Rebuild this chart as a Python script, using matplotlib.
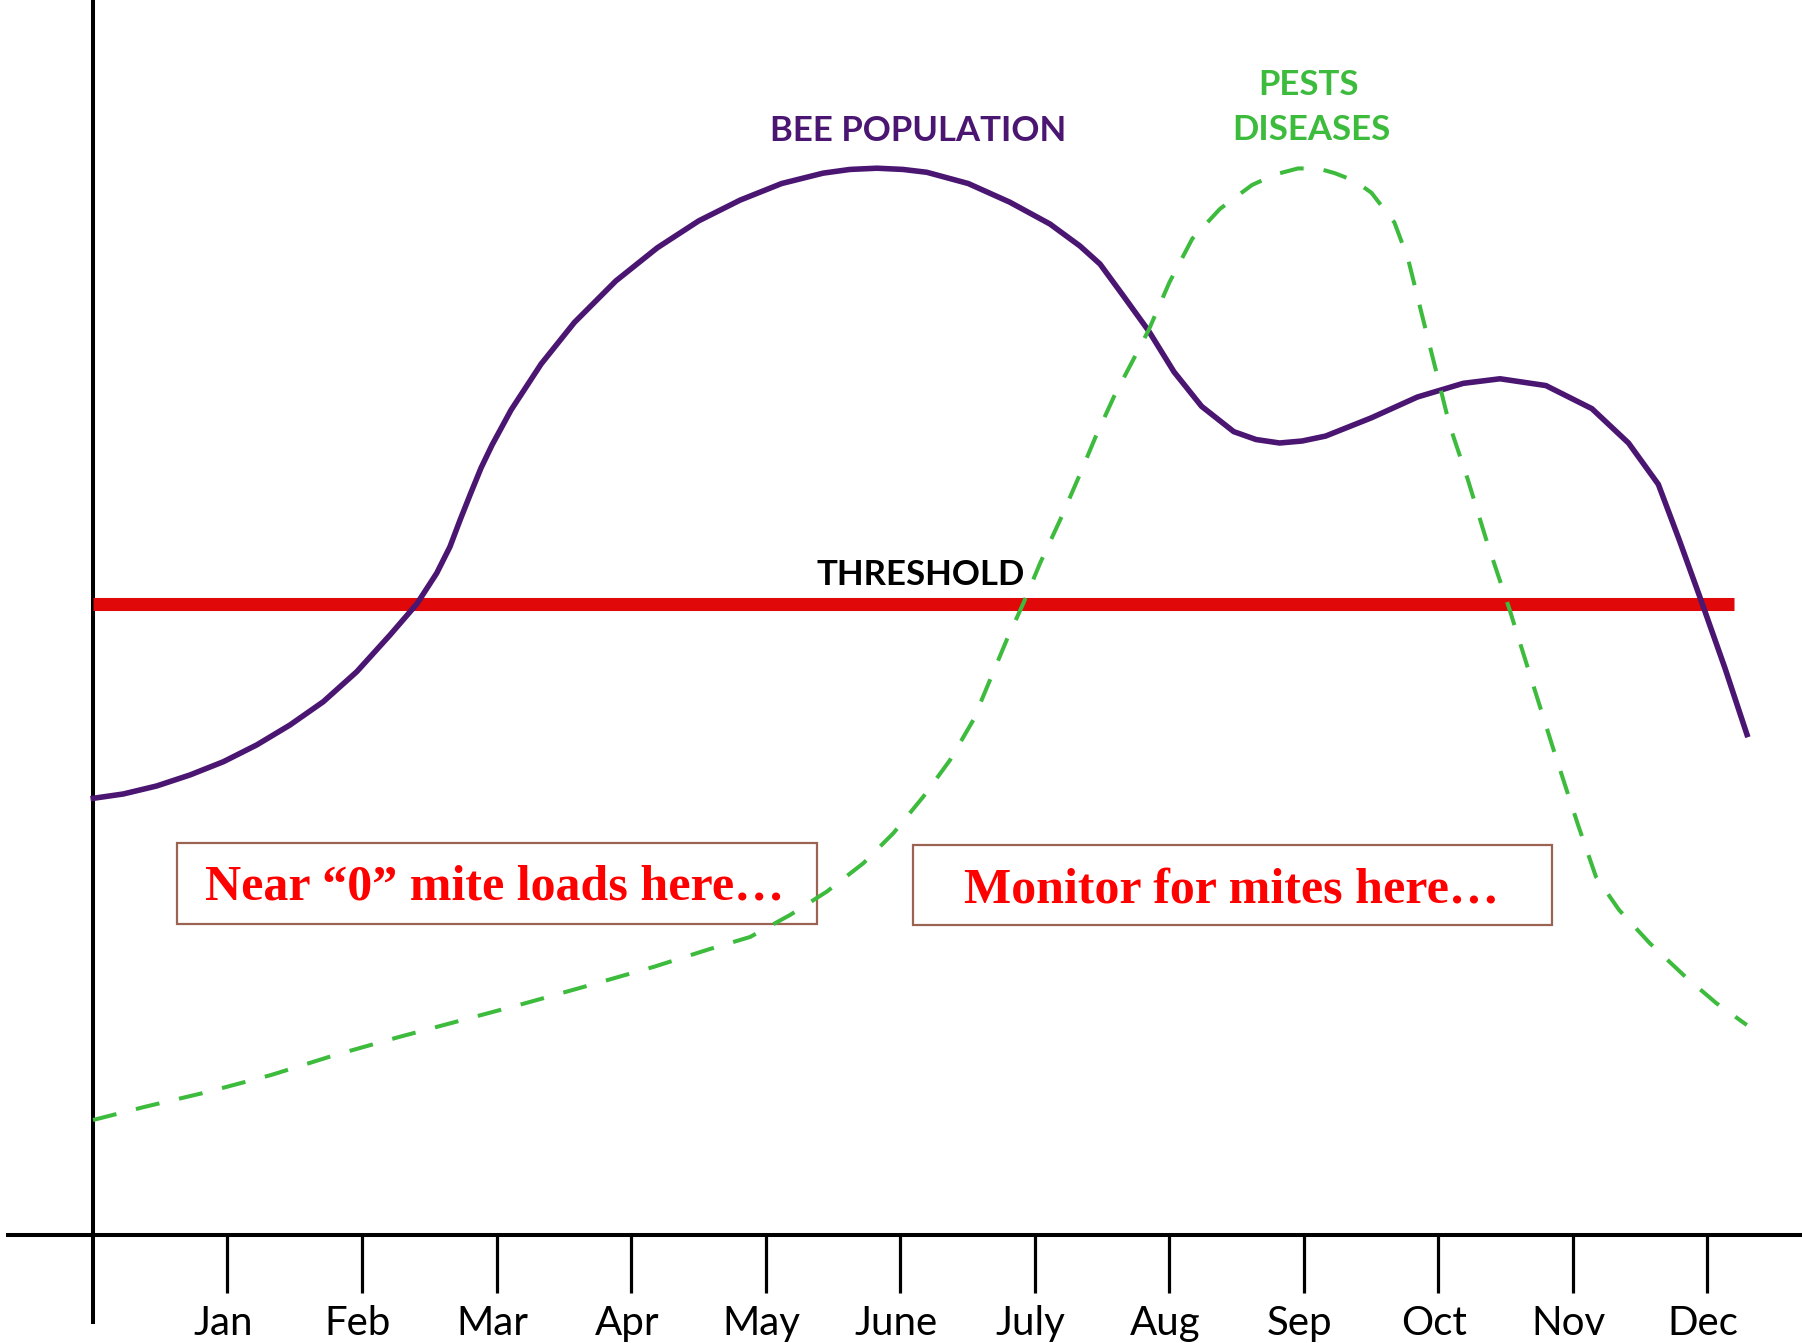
import numpy as np
import matplotlib.pyplot as plt

# months on the x axis, y axis ticks sit at 1..12
months = ['Jan', 'Feb', 'Mar', 'Apr', 'May', 'June', 'July', 'Aug', 'Sep', 'Oct', 'Nov', 'Dec']
month_pos = np.arange(1, 13)

# bee population curve (month, level)
bee_x = [0.002, 0.225, 0.474, 0.721, 0.969, 1.217, 1.465, 1.712, 1.961, 2.208, 2.407,
         2.555, 2.654, 2.729, 2.803, 2.885, 2.967, 3.108, 3.332, 3.579, 3.887, 4.196,
         4.504, 4.812, 5.120, 5.428, 5.628, 5.829, 6.022, 6.199, 6.507, 6.816, 7.115,
         7.338, 7.487, 7.662, 7.849, 8.037, 8.242, 8.481, 8.647, 8.822, 8.989, 9.164,
         9.505, 9.846, 10.187, 10.461, 10.802, 11.144, 11.416, 11.638, 11.792, 11.946,
         12.133, 12.297]
bee_y = [35.36, 35.71, 36.36, 37.25, 38.32, 39.68, 41.30, 43.18, 45.61, 48.58, 51.09,
         53.58, 55.73, 57.89, 59.92, 62.11, 63.97, 66.80, 70.53, 73.89, 77.25, 79.94,
         82.12, 83.80, 85.14, 85.98, 86.28, 86.38, 86.28, 86.05, 85.14, 83.63, 81.86,
         80.08, 78.62, 76.02, 73.20, 69.89, 67.10, 65.05, 64.41, 64.13, 64.29, 64.69,
         66.17, 67.85, 68.96, 69.33, 68.78, 66.91, 64.13, 60.78, 56.32, 51.68,
         45.91, 40.52]

# pests / diseases curve
pest_x = [0.000, 0.378, 0.851, 1.326, 1.799, 2.274, 2.749, 3.222, 3.697, 4.171, 4.587,
          4.885, 5.182, 5.455, 5.727, 5.950, 6.173, 6.372, 6.545, 6.669, 6.793, 6.917,
          7.041, 7.190, 7.320, 7.457, 7.593, 7.729, 7.849, 8.003, 8.173, 8.378, 8.617,
          8.788, 8.958, 9.108, 9.232, 9.383, 9.505, 9.676, 9.778, 9.880, 9.983, 10.085,
          10.222, 10.358, 10.529, 10.700, 10.855, 10.944, 11.041, 11.174, 11.346,
          11.573, 11.839, 12.067, 12.296]
pest_y = [9.31, 10.36, 11.58, 12.96, 14.57, 16.03, 17.41, 18.79, 20.24, 21.72, 23.16,
          24.13, 25.91, 27.80, 30.10, 32.53, 35.49, 38.46, 41.70, 44.94, 48.18, 51.15,
          54.39, 57.89, 61.15, 64.70, 67.94, 70.77, 73.28, 77.14, 80.67, 83.08, 85.02,
          85.87, 86.36, 86.36, 85.98, 85.34, 84.39, 81.98, 79.00, 74.53, 70.07, 65.61,
          61.15, 56.32, 50.74, 44.79, 39.43, 36.44, 33.20, 29.01, 26.32,
          23.64, 20.91, 18.79, 17.00]

threshold = 51.1
threshold_end = 12.2

fig = plt.figure(figsize=(18.02, 13.43), dpi=100)
ax = fig.add_axes([0, 0, 1, 1])
ax.set_xlim(-0.6914, 12.706)
ax.set_ylim(-8.745, 100)
ax.axis('off')

# hand drawn style axes
ax.plot([-0.645, 12.706], [0, 0], color='black', lw=2.9, solid_capstyle='butt')
ax.plot([0, 0], [-7.2, 100], color='black', lw=2.9, solid_capstyle='butt')
ax.vlines(month_pos, -4.7, 0, color='black', lw=2.3)
for m, lab in zip(month_pos, months):
    ax.text(m - 0.03, -8.1, lab, ha='center', va='baseline', fontsize=29,
            family='Lato', color='black')

# threshold
ax.plot([0, threshold_end], [threshold, threshold], color='#e00808', lw=9.4,
        solid_capstyle='butt', zorder=2)
ax.text(6.153, 52.67, 'THRESHOLD', ha='center', va='baseline', fontsize=25,
        family='Lato', weight='bold', color='black')

# curves
ax.plot(bee_x, bee_y, color='#4b1672', lw=4, solid_joinstyle='round', zorder=3)
ax.plot(pest_x, pest_y, color='#3dbb3d', lw=2.9, dashes=(6, 5), zorder=3)

ax.text(6.134, 88.6, 'BEE POPULATION', ha='center', va='baseline', fontsize=25,
        family='Lato', weight='bold', color='#4b1672')
ax.text(9.04, 92.3, 'PESTS', ha='center', va='baseline', fontsize=25,
        family='Lato', weight='bold', color='#3dbb3d')
ax.text(9.056, 88.7, 'DISEASES', ha='center', va='baseline', fontsize=25,
        family='Lato', weight='bold', color='#3dbb3d')

# note boxes
boxes = [(0.6245, 25.18, 5.380, 31.72), (6.093, 25.1, 10.851, 31.58)]
for x0, y0, x1, y1 in boxes:
    ax.add_patch(plt.Rectangle((x0, y0), x1 - x0, y1 - y0, fill=False,
                               edgecolor='#9b6352', lw=1.6, zorder=2))
ax.text(2.986, 27.13, 'Near \u201c0\u201d mite loads here\u2026', ha='center', va='baseline',
        fontsize=36, family='Liberation Serif', weight='bold', color='#ff0000')
ax.text(8.461, 26.96, 'Monitor for mites here\u2026', ha='center', va='baseline',
        fontsize=36, family='Liberation Serif', weight='bold', color='#ff0000')

fig.savefig('out.png', dpi=100, facecolor='white')
